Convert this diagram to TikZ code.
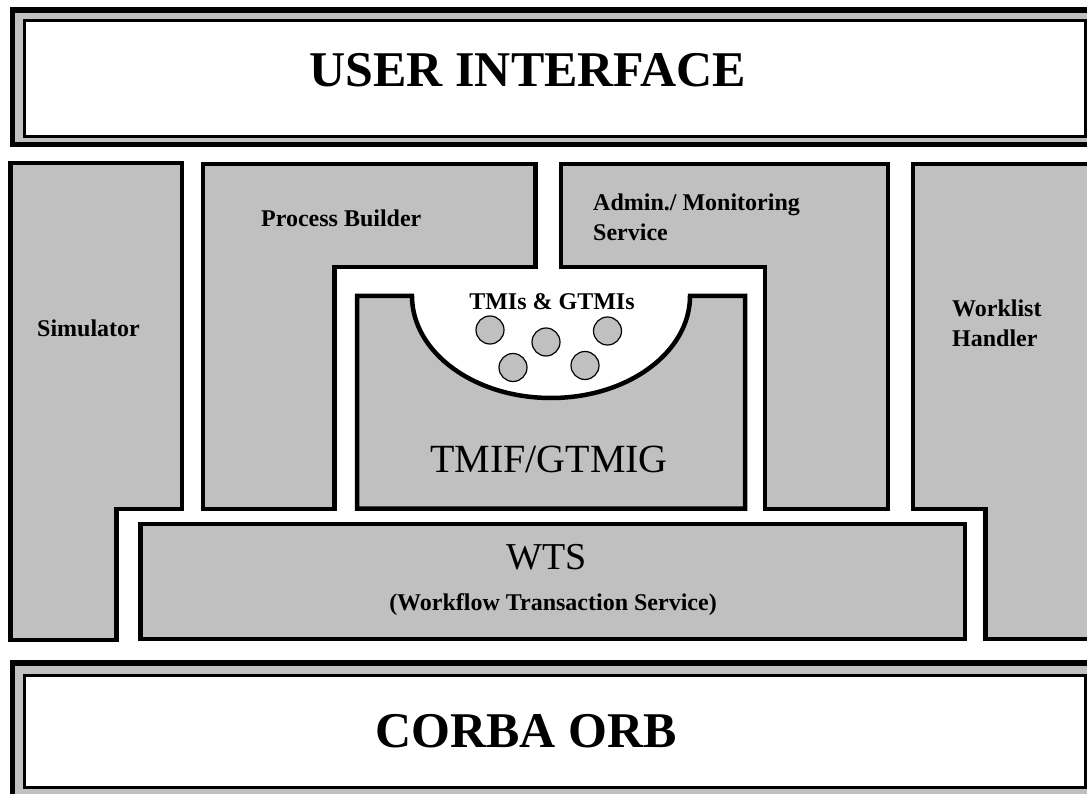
\documentclass[tikz,border=0pt]{standalone}
\usepackage{fontspec}
\setmainfont{Liberation Serif}
\usetikzlibrary{positioning}
\definecolor{silver}{HTML}{C0C0C0}
\tikzstyle{frame} = [draw=black, fill=silver, line width=5.5pt]
\tikzstyle{inner} = [draw=black, fill=white, line width=3pt]
\tikzstyle{block} = [draw=black, fill=silver, line width=4.5pt]
\tikzstyle{tmi} = [draw=black, fill=silver, line width=1.2pt]
\tikzstyle{big} = [inner sep=0, font=\bfseries\fontsize{50}{60}\selectfont]
\tikzstyle{mid} = [inner sep=0, font=\fontsize{40}{48}\selectfont]
\tikzstyle{small} = [inner sep=0, font=\bfseries\fontsize{24}{30}\selectfont]

\begin{document}
\begin{tikzpicture}[x=1pt, y=-1pt]
\useasboundingbox (0,0) rectangle (1087,794);
\clip (0,0) rectangle (1087,794);

% top and bottom layers
\draw [frame] (12.5,10) rectangle (1100,144.5);
\draw [inner] (24,20.5) rectangle (1085,136.5);
\draw [frame] (12.5,663) rectangle (1100,800);
\draw [inner] (24,675.5) rectangle (1085,787.5);

% components
\draw [block] (10.5,163) -- (182,163) -- (182,509) -- (116.5,509) -- (116.5,640) -- (10.5,640) -- cycle;
\draw [block] (203,164) -- (535.5,164) -- (535.5,267) -- (334.5,267) -- (334.5,509) -- (203,509) -- cycle;
\draw [block] (561,164) -- (888,164) -- (888,509) -- (765,509) -- (765,267) -- (561,267) -- cycle;
\draw [block] (913,164) -- (1100,164) -- (1100,639) -- (985.5,639) -- (985.5,509) -- (913,509) -- cycle;
\draw [block] (140.5,524) rectangle (965,639);
\draw [block] (357,296) -- (412,296)
  arc [start angle=180, end angle=360, x radius=139pt, y radius=102pt]
  -- (745,296) -- (745,508.5) -- (357,508.5) -- cycle;

% the TMIs in the bowl
\foreach \x/\y in {490/330, 546/342, 607.5/331, 513/367.5, 585/365.5}
  \draw [tmi] (\x,\y) circle [radius=14pt];

% labels
\node [big] (ui) at (528,70) {USER INTERFACE};
\node [big] (orb) at (526,731) {CORBA ORB};
\node [mid] (tmif) at (549,459) {TMIF/GTMIG};
\node [mid, font=\fontsize{38}{46}\selectfont] (wts) at (547,557) {WTS};
\node [small] (wtsfull) at (553,605) {(Workflow Transaction Service)};
\node [small] (tmis) at (552,302) {TMIs \& GTMIs};
\node [small, anchor=west] (sim) at (37,328) {Simulator};
\node [small, anchor=west] (pb) at (261,218) {Process Builder};
\node [small, anchor=west, align=left] (adm) at (593,217.5) {Admin./ Monitoring\\Service};
\node [small, anchor=west, align=left] (wl) at (952,323) {Worklist\\Handler};
\end{tikzpicture}
\end{document}
